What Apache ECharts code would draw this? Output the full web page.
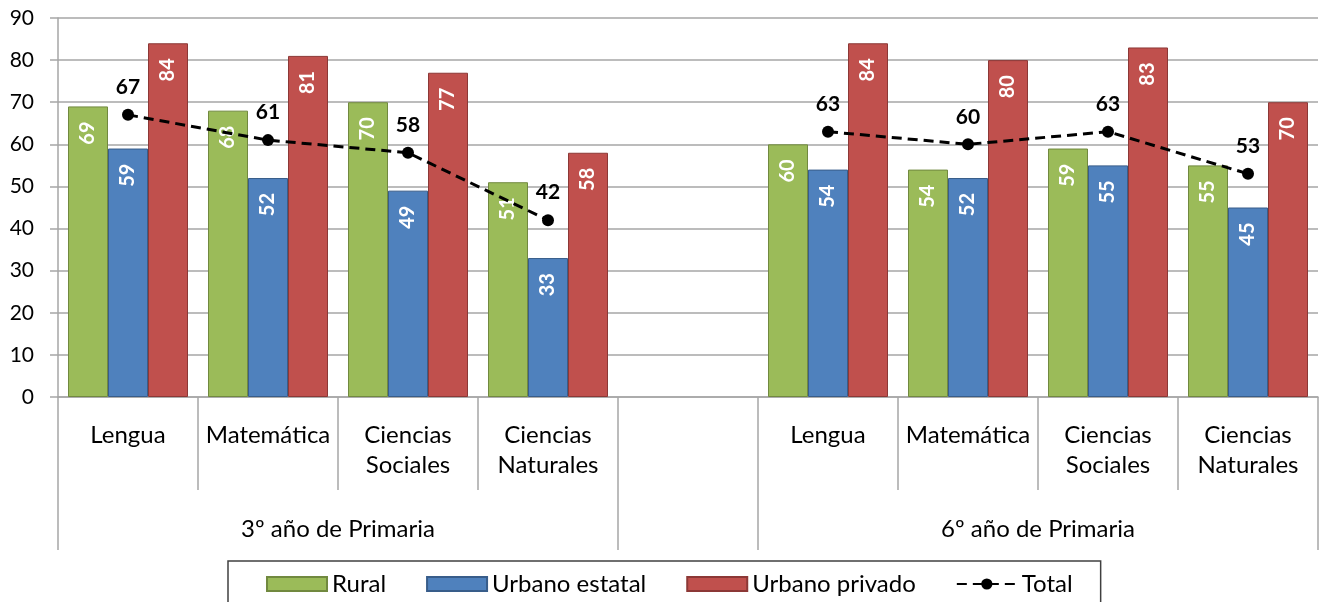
<!DOCTYPE html>
<html>
<head>
<meta charset="utf-8">
<script src="https://cdn.jsdelivr.net/npm/echarts@6/dist/echarts.min.js"></script>
<style>
  html, body { margin: 0; padding: 0; background: #fff; }
  #chart { width: 1319px; height: 602px; }
</style>
</head>
<body>
<div id="chart"></div>
<script>
// Subject labels per slot; the empty slot separates the two grade groups
const subjects = ['Lengua', 'Matemática', 'Ciencias\nSociales', 'Ciencias\nNaturales', '',
                  'Lengua', 'Matemática', 'Ciencias\nSociales', 'Ciencias\nNaturales'];
const groupLabels = ['3º año de Primaria', '6º año de Primaria'];
const groupLabelPos = [2, 7];        // centre of each group, in slot units
const groupBounds = [0, 4, 5, 9];    // group edges, in slot units

const rural          = [69, 68, 70, 51, null, 60, 54, 59, 55];
const urbanoEstatal  = [59, 52, 49, 33, null, 54, 52, 55, 45];
const urbanoPrivado  = [84, 81, 77, 58, null, 84, 80, 83, 70];
const total          = [67, 61, 58, 42, null, 63, 60, 63, 53];

const yTicks = { min: 0, max: 90, interval: 10 };

const FONT = 'Lato';
const GRAY = '#A6A6A6';

function barSeries(name, data, color, border) {
  return {
    name, type: 'bar', data,
    barWidth: 40, barGap: '0%',
    itemStyle: { color, borderColor: border, borderWidth: 1 },
    label: {
      show: true, position: 'insideTop', rotate: 90,
      align: 'right', verticalAlign: 'middle', distance: 15,
      color: '#fff', fontFamily: FONT, fontWeight: 'bold', fontSize: 20
    }
  };
}

const chart = echarts.init(document.getElementById('chart'), null, { renderer: 'canvas' });
chart.setOption({
  animation: false,
  textStyle: { fontFamily: FONT },
  grid: { left: 58, right: 1, top: 18, bottom: 205, containLabel: false },
  legend: {
    left: 228, top: 561,
    padding: [11, 28, 16, 38],
    borderColor: '#404040', borderWidth: 1.5,
    itemWidth: 60, itemHeight: 14, itemGap: 40,
    textStyle: { fontFamily: FONT, fontSize: 24, color: '#000' },
    data: [
      { name: 'Rural', icon: 'rect' },
      { name: 'Urbano estatal', icon: 'rect' },
      { name: 'Urbano privado', icon: 'rect' },
      { name: 'Total' }
    ]
  },
  xAxis: [
    {
      type: 'category', data: subjects, boundaryGap: true,
      axisLine: { show: true, lineStyle: { color: GRAY, width: 1.5 } },
      axisTick: { show: true, interval: 0, length: 93, lineStyle: { color: GRAY, width: 1.5 } },
      axisLabel: {
        interval: 0, margin: 23, color: '#000', fontFamily: FONT,
        fontSize: 24, lineHeight: 30, verticalAlign: 'top'
      }
    },
    {
      type: 'value', min: 0, max: 9, position: 'bottom',
      axisLine: { show: false }, splitLine: { show: false },
      axisTick: { show: true, customValues: groupBounds, length: 153, lineStyle: { color: GRAY, width: 1.5 } },
      axisLabel: {
        customValues: groupLabelPos, margin: 117, color: '#000', fontFamily: FONT,
        fontSize: 24, lineHeight: 30, verticalAlign: 'top',
        formatter: v => groupLabels[groupLabelPos.indexOf(v)]
      }
    }
  ],
  yAxis: {
    type: 'value', min: yTicks.min, max: yTicks.max, interval: yTicks.interval,
    axisLine: { show: true, lineStyle: { color: GRAY, width: 1.5 } },
    axisTick: { show: true, length: 8, lineStyle: { color: GRAY, width: 1.5 } },
    splitLine: { show: true, lineStyle: { color: GRAY, width: 1.5 } },
    axisLabel: { margin: 24, color: '#000', fontFamily: FONT, fontSize: 21 }
  },
  series: [
    barSeries('Rural', rural, '#9BBB59', '#71893F'),
    barSeries('Urbano estatal', urbanoEstatal, '#4F81BD', '#385D8A'),
    barSeries('Urbano privado', urbanoPrivado, '#C0504D', '#8C3836'),
    {
      name: 'Total', type: 'line', data: total, connectNulls: false,
      symbol: 'circle', symbolSize: 12,
      itemStyle: { color: '#000' },
      lineStyle: { color: '#000', width: 3, type: [10, 6] },
      label: {
        show: true, position: 'top', distance: 11,
        color: '#000', fontFamily: FONT, fontWeight: 'bold', fontSize: 21
      },
      z: 5
    }
  ]
});
</script>
</body>
</html>
